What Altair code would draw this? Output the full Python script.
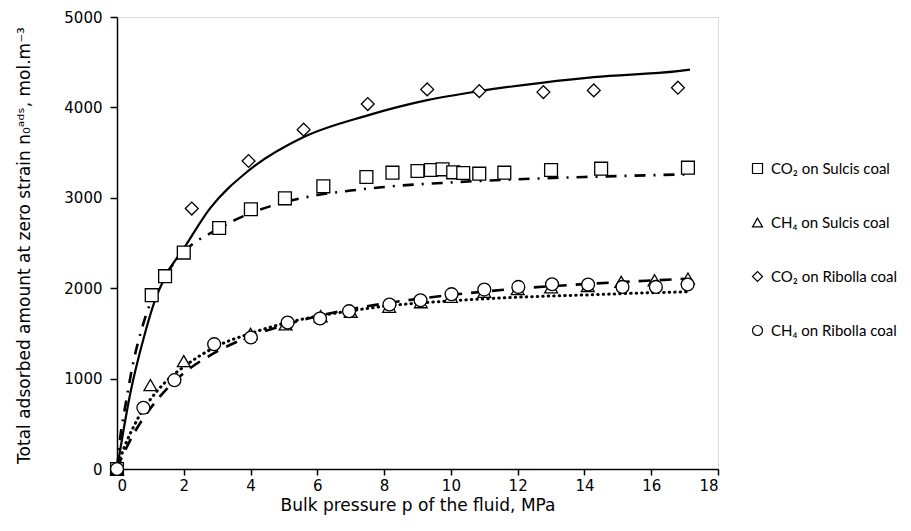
import altair as alt
import pandas as pd

# ---- measured points ----
co2_sulcis_p = [0, 1.04, 1.44, 2.0, 3.06, 4.01, 5.03, 6.18, 7.47, 8.25, 9.0, 9.40, 9.75, 10.07, 10.37, 10.85, 11.60, 13.0, 14.5, 17.1]
co2_sulcis_n = [0, 1923, 2133, 2394, 2666, 2873, 2994, 3127, 3230, 3278, 3296, 3307, 3315, 3282, 3274, 3267, 3278, 3307, 3322, 3333]

ch4_sulcis_p = [0, 1.0, 2.0, 4.0, 5.05, 6.1, 7.0, 8.15, 9.1, 10.0, 11.0, 12.0, 13.0, 14.1, 15.1, 16.1, 17.1]
ch4_sulcis_n = [0, 928, 1193, 1495, 1600, 1690, 1740, 1795, 1845, 1905, 1960, 1990, 2010, 2025, 2070, 2088, 2107]

co2_ribolla_p = [0, 2.24, 3.94, 5.59, 7.51, 9.29, 10.85, 12.77, 14.28, 16.8]
co2_ribolla_n = [0, 2881, 3407, 3754, 4037, 4199, 4180, 4169, 4188, 4218]

ch4_ribolla_p = [0, 0.79, 1.72, 2.91, 4.01, 5.11, 6.08, 6.95, 8.16, 9.09, 10.02, 11.0, 12.02, 13.03, 14.11, 15.14, 16.14, 17.09]
ch4_ribolla_n = [0, 677, 983, 1381, 1455, 1621, 1665, 1746, 1820, 1867, 1934, 1985, 2014, 2044, 2041, 2014, 2014, 2041]

# ---- fitted curves ----
fit_co2_ribolla_p = [0, 0.2, 0.4, 0.8, 1.14, 1.44, 2.0, 2.78, 3.94, 5.59, 7.51, 9.29, 10.85, 12.77, 14.28, 16.8, 17.16]
fit_co2_ribolla_n = [0, 440, 840, 1450, 1867, 2125, 2440, 2880, 3300, 3672, 3912, 4080, 4180, 4275, 4335, 4401, 4417]

fit_p = [0, 0.1, 0.25, 0.5, 0.75, 1, 1.5, 2, 3, 4, 5, 6, 7, 8, 10, 12, 14, 16, 17.1]
fit_co2_sulcis = [0, 360, 700, 1200, 1560, 1840, 2170, 2400, 2650, 2830, 2950, 3030, 3080, 3120, 3170, 3205, 3230, 3250, 3260]
fit_ch4_sulcis = [0, 90, 210, 390, 540, 670, 890, 1060, 1300, 1470, 1590, 1690, 1770, 1830, 1925, 1995, 2045, 2085, 2105]
fit_ch4_ribolla = [0, 120, 270, 470, 640, 770, 980, 1130, 1360, 1500, 1610, 1690, 1750, 1800, 1860, 1900, 1925, 1950, 1960]

labels = ["CO\u2082 on Sulcis coal", "CH\u2084 on Sulcis coal", "CO\u2082 on Ribolla coal", "CH\u2084 on Ribolla coal"]
shapes = ["square", "triangle-up", "diamond", "circle"]

rows = []
for lab, ps, ns in zip(labels,
                       [co2_sulcis_p, ch4_sulcis_p, co2_ribolla_p, ch4_ribolla_p],
                       [co2_sulcis_n, ch4_sulcis_n, co2_ribolla_n, ch4_ribolla_n]):
    for p, n in zip(ps, ns):
        rows.append({"p": p, "n": n, "series": lab})
pts = pd.DataFrame(rows)

FONT = "DejaVu Sans"
x_scale = alt.Scale(domain=[0, 18], nice=False, zero=True)
y_scale = alt.Scale(domain=[0, 5000], nice=False)

x_axis = alt.Axis(values=list(range(0, 19, 2)), title="Bulk pressure p of the fluid, MPa", format="d",
                  grid=False, domainColor="black", domainWidth=1.5, tickColor="black", tickWidth=1.5,
                  tickSize=6, labelFont=FONT, labelFontSize=15, labelColor="black",
                  labelPadding=3, titleFont=FONT, titleFontSize=17, titleFontWeight="normal",
                  titleColor="black", titlePadding=4)
y_axis = alt.Axis(values=list(range(0, 5001, 1000)), format="d",
                  title="Total adsorbed amount at zero strain n\u2080\u1d43\u1d48\u02e2, mol.m\u207b\u00b3",
                  grid=False, domainColor="black", domainWidth=1.5, tickColor="black", tickWidth=1.5,
                  tickSize=7, labelFont=FONT, labelFontSize=15, labelColor="black",
                  labelPadding=8, titleFont=FONT, titleFontSize=17, titleFontWeight="normal",
                  titleColor="black", titleX=-84, titleY=228)


def fit_layer(ps, vals, dash, width=2.4, cap="butt"):
    df = pd.DataFrame({"p": ps, "n": vals})
    kw = dict(color="black", strokeWidth=width, interpolate="monotone", strokeCap=cap)
    if dash:
        kw["strokeDash"] = dash
    return alt.Chart(df).mark_line(**kw).encode(
        x=alt.X("p:Q", scale=x_scale, axis=x_axis),
        y=alt.Y("n:Q", scale=y_scale, axis=y_axis),
    )


lines = [
    fit_layer(fit_co2_ribolla_p, fit_co2_ribolla_n, None, 2.2),
    fit_layer(fit_p, fit_co2_sulcis, [11, 8, 2, 8], 2.6),
    fit_layer(fit_p, fit_ch4_sulcis, [12, 9], 2.6),
    fit_layer(fit_p, fit_ch4_ribolla, [0.5, 5], 3.0, "round"),
]

leg = alt.Legend(title=None, orient="none", legendX=633, legendY=144,
                 labelFont="Lato", labelFontSize=15, labelColor="black",
                 symbolFillColor="white", symbolStrokeColor="black",
                 symbolStrokeWidth=1.2, symbolSize=100, symbolOpacity=1,
                 rowPadding=38, labelOffset=6)

points = alt.Chart(pts).mark_point(filled=False, fill="white", fillOpacity=1,
                                   strokeWidth=1.3, opacity=1, size=165).encode(
    x=alt.X("p:Q", scale=x_scale, axis=x_axis),
    y=alt.Y("n:Q", scale=y_scale, axis=y_axis),
    shape=alt.Shape("series:N", scale=alt.Scale(domain=labels, range=shapes), legend=leg),
    color=alt.Color("series:N", scale=alt.Scale(domain=labels, range=["black"] * 4), legend=leg),
)

chart = alt.layer(*lines, points).properties(
    width=601, height=452,
    autosize=alt.AutoSizeParams(type="none"),
    padding={"left": 109, "top": 9, "right": 185, "bottom": 54},
).configure_view(stroke=None).configure(background="white")

chart.save("out.html", embed_options={"renderer": "svg", "actions": False})
